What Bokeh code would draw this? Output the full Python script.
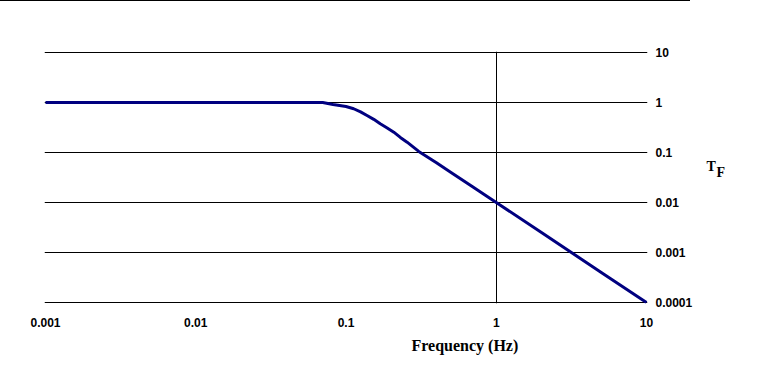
from bokeh.plotting import figure
from bokeh.models import FixedTicker, Range1d, Title, LogAxis, CustomJSTickFormatter
from bokeh.embed import file_html
from bokeh.resources import INLINE

# data
freq = [0.001, 0.01, 0.05, 0.07, 0.082, 0.1, 0.1125, 0.125, 0.138, 0.153, 0.169, 0.188,
        0.208, 0.23, 0.255, 0.305, 0.4, 0.5, 0.7, 1, 2, 5, 10]
tf = [1, 1, 1, 1, 0.91, 0.83, 0.75, 0.65, 0.55, 0.46, 0.375, 0.31,
      0.255, 0.2, 0.161, 0.105, 0.0625, 0.04, 0.0204, 0.01, 0.0025, 0.0004, 0.0001]

x_ticks = [0.001, 0.01, 0.1, 1, 10]
x_labels = ["0.001", "0.01", "0.1", "1", "10"]
y_ticks = [0.0001, 0.001, 0.01, 0.1, 1, 10]
y_labels = ["0.0001", "0.001", "0.01", "0.1", "1", "10"]

x_title = "Frequency (Hz)"
y_title_main = "T"
y_title_sub = "F"

PX_X = 150.3  # px per decade
PX_Y = 50.0
LEFT, TOP, FW, FH = 44, 51, 603, 252
T_POS = 10 ** (-(166 - 102) / PX_Y)   # vertical placement of "T"
F_POS = 10 ** (-(172 - 102) / PX_Y)   # vertical placement of subscript "F"

p = figure(x_axis_type="log", y_axis_type="log", y_axis_location="right",
           frame_width=FW, frame_height=FH,
           min_border_left=LEFT, min_border_top=TOP, min_border_right=110, min_border_bottom=66,
           x_range=Range1d(10 ** (-3 - 1 / PX_X), 10 ** (1 + 1 / PX_X)),
           y_range=Range1d(10 ** (-4 - 1 / PX_Y), 10 ** (1 + 1 / PX_Y)),
           output_backend="svg", toolbar_location=None)
p.outline_line_color = None
p.background_fill_color = "white"
p.border_fill_color = None
p.styles = {"background": "linear-gradient(#000, #000) 0 0 / 690px 1px no-repeat, white"}

fmt_code = """
const i = tv.findIndex(t => Math.abs(Math.log10(t) - Math.log10(tick)) < 1e-6);
return i >= 0 ? lb[i] : '';
"""


def style_axis(ax, tk, lbl, standoff, font, size):
    ax.ticker = FixedTicker(ticks=tk)
    ax.formatter = CustomJSTickFormatter(args=dict(tv=tk, lb=lbl), code=fmt_code)
    ax.axis_line_color = None
    ax.major_tick_line_color = None
    ax.minor_tick_line_color = None
    ax.major_tick_out = 0
    ax.major_tick_in = 0
    ax.major_label_standoff = standoff
    ax.major_label_text_font = font
    ax.major_label_text_font_style = "bold"
    ax.major_label_text_font_size = size
    ax.major_label_text_color = "black"


style_axis(p.xaxis[0], x_ticks, x_labels, 14, "Liberation Sans", "12px")
style_axis(p.yaxis[0], y_ticks, y_labels, 8, "Liberation Sans", "12px")

serif = "Liberation Serif"
t_axis = LogAxis()
style_axis(t_axis, [T_POS], [y_title_main], 11, serif, "14px")
p.add_layout(t_axis, "right")
f_axis = LogAxis()
style_axis(f_axis, [F_POS], [y_title_sub], -2, serif, "14px")
p.add_layout(f_axis, "right")

p.ygrid.ticker = FixedTicker(ticks=y_ticks)
p.ygrid.grid_line_color = "black"
p.ygrid.grid_line_width = 1
p.xgrid.ticker = FixedTicker(ticks=[1])
p.xgrid.grid_line_color = "black"
p.xgrid.grid_line_width = 1

p.line(freq, tf, line_color="#000080", line_width=3)

p.add_layout(Title(text=x_title, align="left", offset=411 - LEFT, standoff=10,
                   text_font=serif, text_font_style="bold", text_font_size="16px",
                   text_color="black"), "below")

open("out.html", "w").write(file_html(p, INLINE))
